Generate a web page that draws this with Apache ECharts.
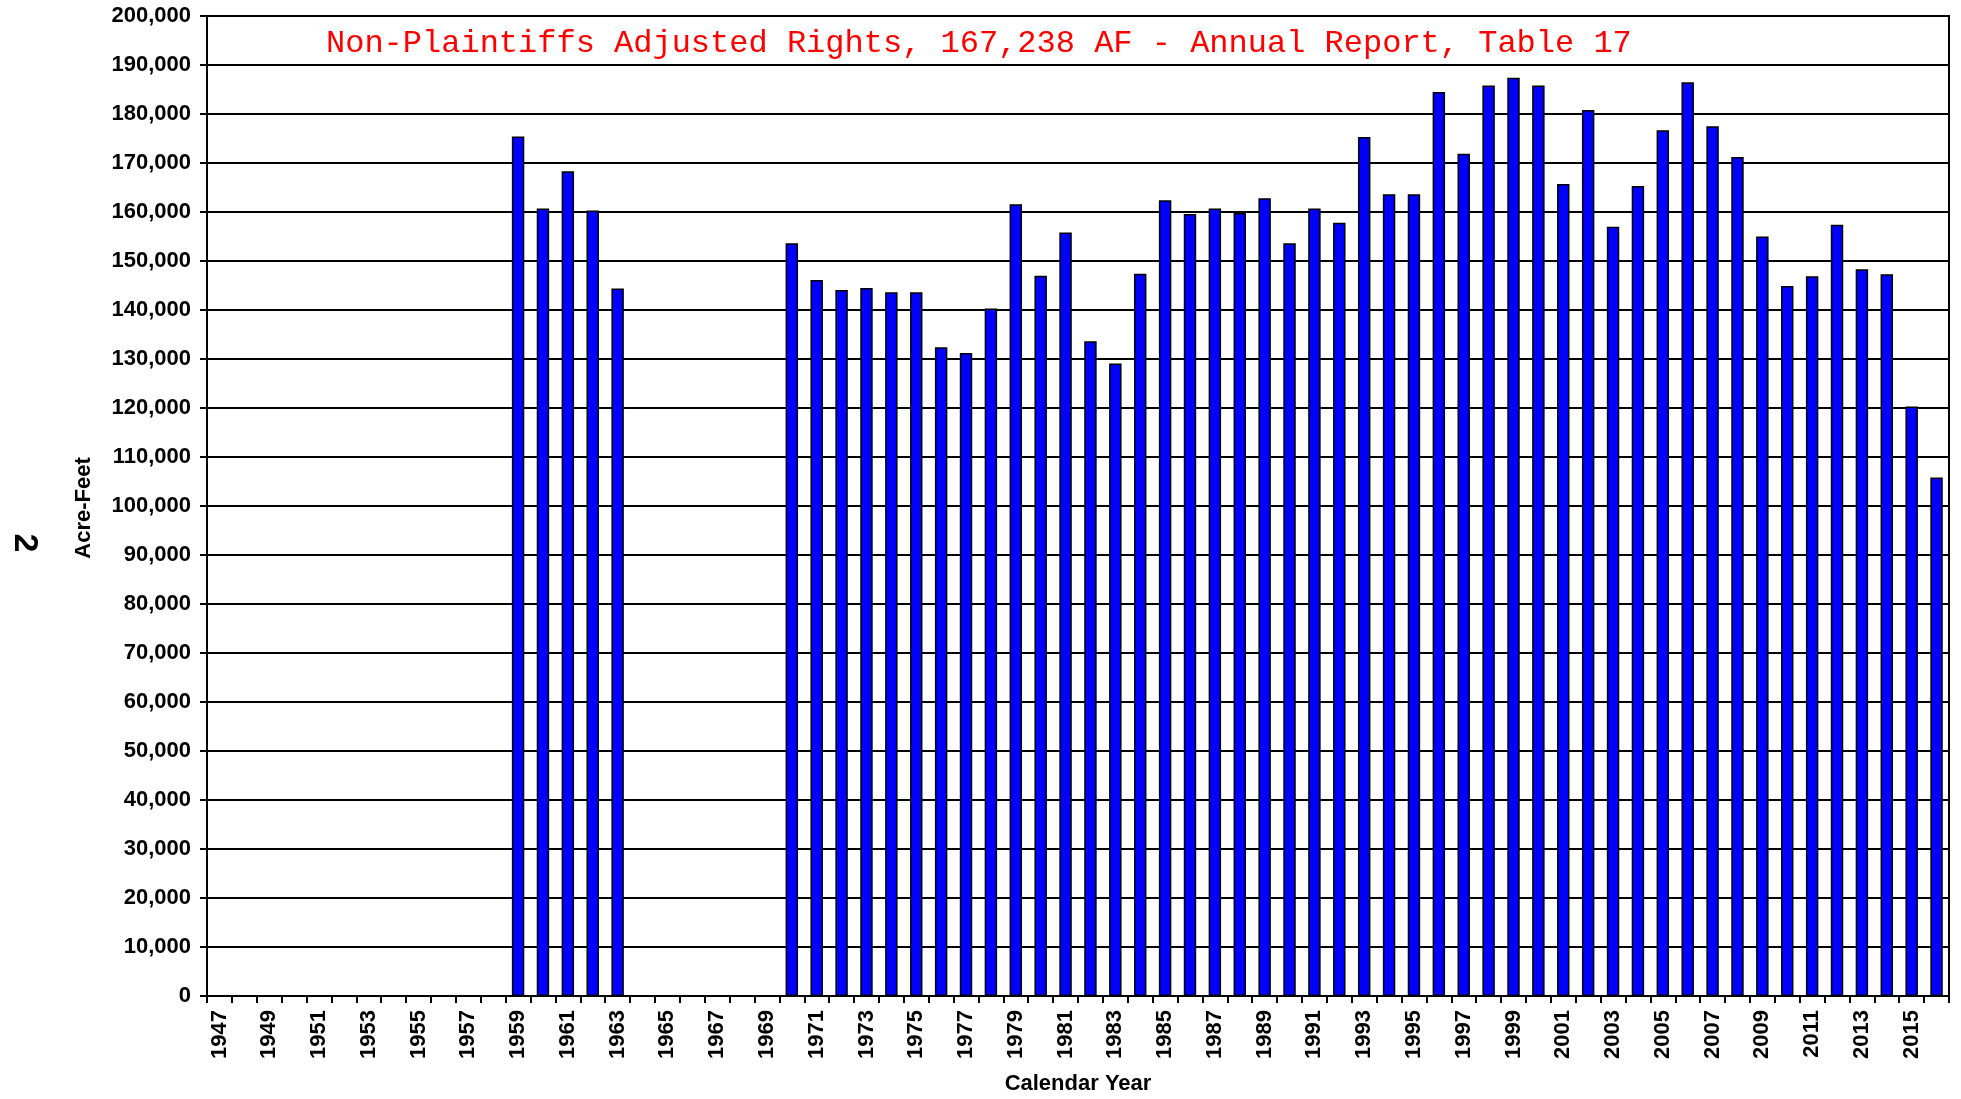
<!DOCTYPE html>
<html>
<head>
<meta charset="utf-8">
<title>Non-Plaintiffs Adjusted Rights</title>
<script src="https://cdn.jsdelivr.net/npm/echarts@6/dist/echarts.min.js"></script>
<style>
	html, body { margin: 0; padding: 0; background: #fff; }
	#chart { width: 1961px; height: 1099px; }
</style>
</head>
<body>
<div id="chart"></div>
<script>
// calendar years on the x axis
var years = [ '1947', '1948', '1949', '1950', '1951', '1952', '1953', '1954',
		'1955', '1956', '1957', '1958', '1959', '1960', '1961', '1962', '1963',
		'1964', '1965', '1966', '1967', '1968', '1969', '1970', '1971', '1972',
		'1973', '1974', '1975', '1976', '1977', '1978', '1979', '1980', '1981',
		'1982', '1983', '1984', '1985', '1986', '1987', '1988', '1989', '1990',
		'1991', '1992', '1993', '1994', '1995', '1996', '1997', '1998', '1999',
		'2000', '2001', '2002', '2003', '2004', '2005', '2006', '2007', '2008',
		'2009', '2010', '2011', '2012', '2013', '2014', '2015', '2016' ];

// acre-feet per year (null = no data)
var acreFeet = [ null, null, null, null, null, null, null, null,
		null, null, null, null, 175400, 160700, 168300, 160300, 144400,
		null, null, null, null, null, null, 153600, 146100, 144100,
		144500, 143600, 143600, 132400, 131200, 140300, 161600, 147000, 155800,
		133600, 129100, 147400, 162400, 159600, 160700, 159800, 162800, 153600,
		160700, 157800, 175300, 163600, 163600, 184500, 171900, 185800, 187400,
		185800, 165700, 180800, 157000, 165300, 176700, 186500, 177500, 171200,
		155000, 144900, 146900, 157400, 148300, 147300, 120300, 105800 ];

var titleText = 'Non-Plaintiffs Adjusted Rights, 167,238 AF - Annual Report, Table 17';

var myChart = echarts.init(document.getElementById('chart'));

var option = {
	animation : false,
	backgroundColor : '#fff',
	grid : {
		left : 207,
		right : 12,
		top : 16,
		bottom : 103,
		show : true,
		borderColor : '#000',
		borderWidth : 2
	},
	xAxis : {
		type : 'category',
		data : years,
		boundaryGap : true,
		axisLine : { lineStyle : { color : '#000', width : 2 } },
		axisTick : { show : true, interval : 0, length : 7, lineStyle : { color : '#000', width : 2 } },
		axisLabel : {
			interval : 1,
			rotate : 90,
			margin : 14,
			color : '#000',
			fontFamily : 'Liberation Sans, Arial, sans-serif',
			fontWeight : 'bold',
			fontSize : 22
		},
		splitLine : { show : false }
	},
	yAxis : {
		type : 'value',
		min : 0,
		max : 200000,
		interval : 10000,
		axisLine : { show : true, lineStyle : { color : '#000', width : 2 } },
		axisTick : { show : true, length : 7, lineStyle : { color : '#000', width : 2 } },
		axisLabel : {
			margin : 16,
			color : '#000',
			fontFamily : 'Liberation Sans, Arial, sans-serif',
			fontWeight : 'bold',
			fontSize : 22,
			formatter : function(v) {
				return v.toLocaleString('en-US');
			}
		},
		splitLine : { lineStyle : { color : '#000', width : 2 } }
	},
	series : [ {
		type : 'bar',
		data : acreFeet,
		barWidth : '50%',
		itemStyle : {
			color : '#0000ff',
			borderColor : '#000',
			borderWidth : 1.5
		}
	} ],
	graphic : [ {
		type : 'text',
		left : 326,
		top : 28,
		style : {
			text : titleText,
			fill : '#ff0000',
			font : '32px "Liberation Mono", "Courier New", monospace'
		}
	}, {
		type : 'text',
		x : 84,
		y : 508,
		rotation : Math.PI / 2,
		style : {
			text : 'Acre-Feet',
			fill : '#000',
			font : 'bold 22px "Liberation Sans", Arial, sans-serif',
			align : 'center',
			verticalAlign : 'middle'
		}
	}, {
		type : 'text',
		x : 24,
		y : 543,
		rotation : -Math.PI / 2,
		style : {
			text : '2',
			fill : '#000',
			font : 'bold 34px "Liberation Sans", Arial, sans-serif',
			align : 'center',
			verticalAlign : 'middle'
		}
	}, {
		type : 'text',
		x : 1078,
		y : 1084,
		style : {
			text : 'Calendar Year',
			fill : '#000',
			font : 'bold 22px "Liberation Sans", Arial, sans-serif',
			align : 'center',
			verticalAlign : 'middle'
		}
	} ]
};

myChart.setOption(option);
</script>
</body>
</html>
